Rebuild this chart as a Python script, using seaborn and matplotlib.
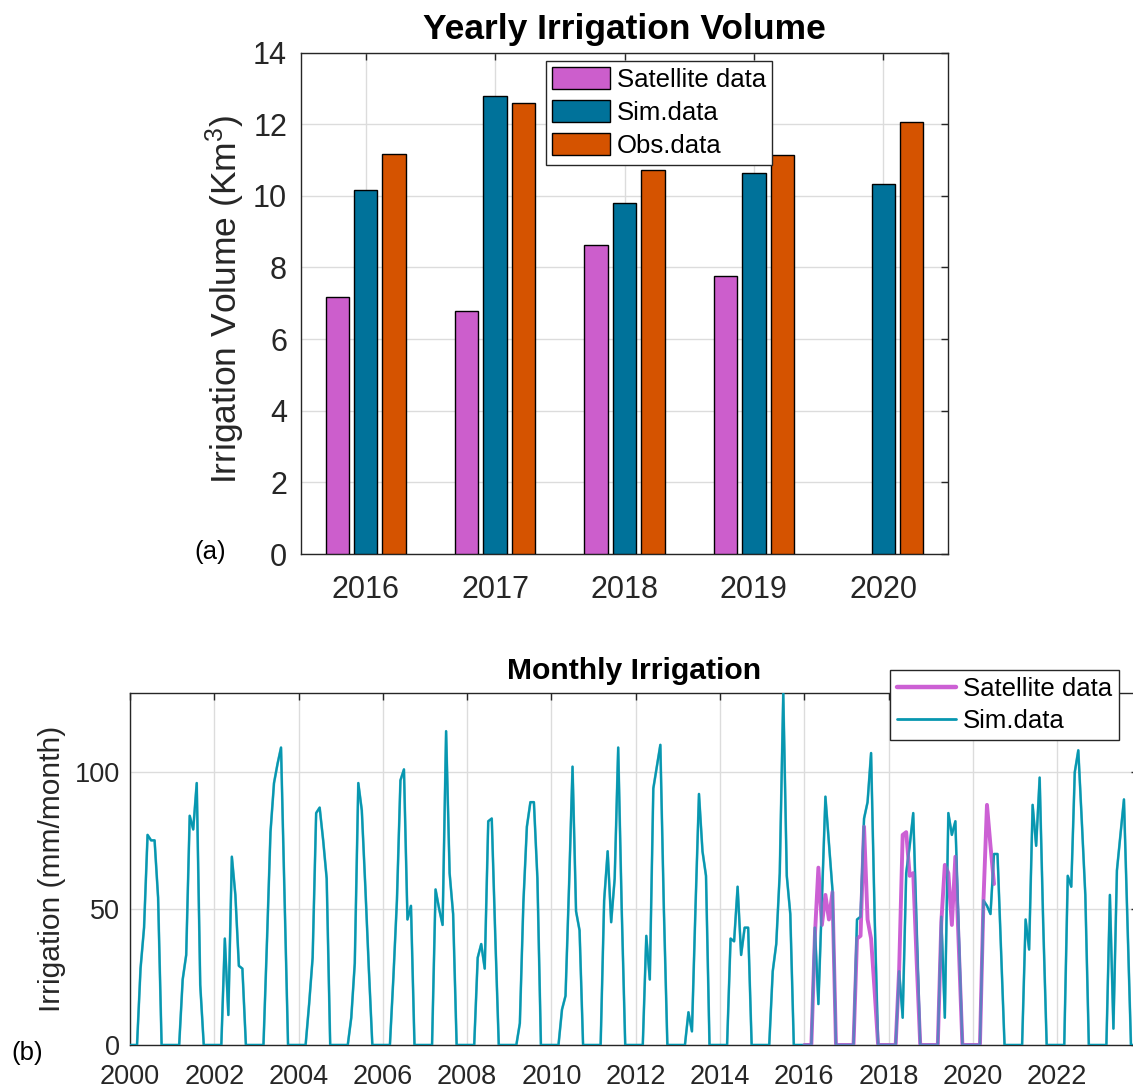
import numpy as np
import pandas as pd
import matplotlib
matplotlib.use("Agg")
import matplotlib.pyplot as plt
from matplotlib.patches import Patch
from matplotlib.lines import Line2D
import seaborn as sns

# ---------------- data: yearly volumes (Km^3) ----------------
years = ["2016", "2017", "2018", "2019", "2020"]
sources = ["Satellite data", "Sim.data", "Obs.data"]
satellite_km3 = [7.17, 6.77, 8.64, 7.75, np.nan]
sim_km3 = [10.17, 12.78, 9.81, 10.64, 10.34]
obs_km3 = [11.17, 12.60, 10.71, 11.14, 12.06]

# ---------------- data: monthly irrigation (mm/month) ----------------
sim_years = list(range(2000, 2024))
sim_monthly = [
    0, 0, 0, 28, 43, 77, 75, 75, 54, 0, 0, 0,      # 2000
    0, 0, 0, 24, 33, 84, 79, 96, 22, 0, 0, 0,      # 2001
    0, 0, 0, 39, 11, 69, 55, 29, 28, 0, 0, 0,      # 2002
    0, 0, 0, 38, 78, 96, 103, 109, 55, 0, 0, 0,    # 2003
    0, 0, 0, 15, 32, 85, 87, 75, 61, 0, 0, 0,      # 2004
    0, 0, 0, 10, 30, 96, 86, 58, 28, 0, 0, 0,      # 2005
    0, 0, 0, 25, 53, 97, 101, 46, 51, 0, 0, 0,     # 2006
    0, 0, 0, 57, 50, 44, 115, 63, 48, 0, 0, 0,     # 2007
    0, 0, 0, 32, 37, 28, 82, 83, 40, 0, 0, 0,      # 2008
    0, 0, 0, 8, 52, 80, 89, 89, 61, 0, 0, 0,       # 2009
    0, 0, 0, 13, 18, 58, 102, 49, 42, 0, 0, 0,     # 2010
    0, 0, 0, 53, 71, 45, 61, 109, 50, 0, 0, 0,     # 2011
    0, 0, 0, 40, 24, 94, 102, 110, 50, 0, 0, 0,    # 2012
    0, 0, 0, 12, 5, 50, 92, 71, 62, 0, 0, 0,       # 2013
    0, 0, 0, 39, 38, 58, 33, 43, 43, 0, 0, 0,      # 2014
    0, 0, 0, 27, 37, 63, 129, 62, 48, 0, 0, 0,     # 2015
    0, 0, 0, 43, 15, 53, 91, 74, 57, 0, 0, 0,      # 2016
    0, 0, 0, 46, 47, 83, 89, 107, 48, 0, 0, 0,     # 2017
    0, 0, 0, 27, 10, 63, 73, 85, 42, 0, 0, 0,      # 2018
    0, 0, 0, 47, 10, 85, 77, 82, 40, 0, 0, 0,      # 2019
    0, 0, 0, 53, 51, 48, 70, 70, 35, 0, 0, 0,      # 2020
    0, 0, 0, 46, 35, 88, 73, 98, 45, 0, 0, 0,      # 2021
    0, 0, 0, 62, 58, 100, 108, 82, 55, 0, 0, 0,    # 2022
    0, 0, 0, 55, 6, 64, 77, 90, 45, 0, 0, 0,       # 2023
]
sat_start_year = 2016
sat_monthly = [
    0, 0, 0, 40, 65, 44, 55, 46, 56, 0, 0, 0,      # 2016
    0, 0, 0, 39, 40, 80, 46, 39, 20, 0, 0, 0,      # 2017
    0, 0, 0, 28, 77, 78, 62, 63, 30, 0, 0, 0,      # 2018
    0, 0, 0, 45, 66, 63, 44, 69, 35, 0, 0, 0,      # 2019
    0, 0, 0, 53, 88, 73, 59,                       # 2020 (Jan-Jul)
]
month_ticks = list(range(2000, 2024, 2))

# ---------------- styling ----------------
bar_colors = ["#cc5ecc", "#00729a", "#d55300"]
sim_color = "#0797b0"
sat_color = "#cc60d4"
axis_color = "#262626"
grid_color = "#dcdcdc"

sns.set_style("white")
plt.rcParams["font.family"] = ["Liberation Sans", "DejaVu Sans"]
plt.rcParams["axes.edgecolor"] = axis_color
plt.rcParams["xtick.color"] = axis_color
plt.rcParams["ytick.color"] = axis_color
plt.rcParams["text.color"] = "black"
plt.rcParams["mathtext.fontset"] = "custom"
plt.rcParams["mathtext.rm"] = "Liberation Sans"
plt.rcParams["mathtext.it"] = "Liberation Sans:italic"

W, H = 1133, 1089
fig = plt.figure(figsize=(W / 100, H / 100), dpi=100)

def fx(px):
    return px / W

def fy(py):
    return 1 - py / H

# ================= top: yearly bars =================
ax1 = fig.add_axes([fx(301), fy(554), fx(948) - fx(301), fy(52.5) - fy(554)])
df_bar = pd.DataFrame({
    "Year": years * 3,
    "Source": [sources[0]] * 5 + [sources[1]] * 5 + [sources[2]] * 5,
    "Volume": satellite_km3 + sim_km3 + obs_km3,
})
sns.barplot(data=df_bar, x="Year", y="Volume", hue="Source", hue_order=sources,
            palette=bar_colors, width=0.66, gap=0.18, edgecolor="black",
            linewidth=1.0, saturation=1, legend=False, ax=ax1, zorder=3)
ax1.set_ylim(0, 14)
ax1.set_xlim(-0.5, 4.5)
ax1.set_yticks(range(0, 15, 2))
ax1.grid(True, color=grid_color, linewidth=1.0, zorder=0)
ax1.set_axisbelow(True)
ax1.tick_params(axis="both", direction="in", top=True, right=True, length=5, width=1,
                labelsize=22)
ax1.tick_params(axis="x", pad=15)
ax1.tick_params(axis="y", pad=10)
ax1.set_xlabel("")
ax1.set_ylabel("Irrigation Volume (Km$^3$)", fontsize=25.5)
ax1.yaxis.set_label_coords(-0.083, 0.507)
ax1.set_title("Yearly Irrigation Volume", fontsize=25.5, fontweight="bold", pad=10)
for s in ax1.spines.values():
    s.set_linewidth(1.0)
    s.set_color(axis_color)
bar_handles = [Patch(facecolor=c, edgecolor="black", linewidth=1.0) for c in bar_colors]
leg1 = ax1.legend(bar_handles, sources, loc="upper left",
                  bbox_to_anchor=(fx(546), fy(60.5)), bbox_transform=fig.transFigure,
                  fontsize=18.5, frameon=True, fancybox=False, framealpha=1,
                  edgecolor=axis_color, borderpad=0.25, labelspacing=0.32,
                  handlelength=2.25, handleheight=0.95, handletextpad=0.25,
                  borderaxespad=0)
leg1.get_frame().set_linewidth(1.0)

# ================= bottom: monthly lines =================
ax2 = fig.add_axes([fx(130), fy(1045), fx(1138) - fx(130), fy(693) - fy(1045)])
t_sim = [y + m / 12 for y in sim_years for m in range(12)]
sat_offset = (sat_start_year - sim_years[0]) * 12
t_sat = t_sim[sat_offset:sat_offset + len(sat_monthly)]
df_sim = pd.DataFrame({"t": t_sim, "v": sim_monthly})
df_sat = pd.DataFrame({"t": t_sat, "v": sat_monthly})
sns.lineplot(data=df_sim, x="t", y="v", color=sim_color, linewidth=1.6, ax=ax2, zorder=3)
sns.lineplot(data=df_sat, x="t", y="v", color=sat_color, linewidth=2.8, ax=ax2, zorder=4)
# translucent sim overlay so overlapping stretches blend like the original
sns.lineplot(data=df_sim, x="t", y="v", color=sim_color, alpha=0.55, linewidth=1.9,
             ax=ax2, zorder=5)
ax2.set_xlim(2000, 2023 + 11 / 12)
ax2.set_ylim(0, 129)
ax2.set_xticks(month_ticks)
ax2.set_xticklabels([str(v) for v in month_ticks])
ax2.set_yticks([0, 50, 100])
ax2.grid(True, color=grid_color, linewidth=1.0, zorder=0)
ax2.set_axisbelow(True)
ax2.tick_params(axis="both", direction="in", top=True, right=True, length=5, width=1,
                labelsize=19.5)
ax2.tick_params(axis="x", pad=14)
ax2.tick_params(axis="y", pad=7)
ax2.set_xlabel("")
ax2.set_ylabel("Irrigation (mm/month)", fontsize=21.5)
ax2.yaxis.set_label_coords(-0.063, 0.5)
ax2.set_title("Monthly Irrigation", fontsize=21.7, fontweight="bold", pad=10)
for s in ax2.spines.values():
    s.set_linewidth(1.0)
    s.set_color(axis_color)
line_handles = [Line2D([0], [0], color=sat_color, linewidth=3.2),
                Line2D([0], [0], color=sim_color, linewidth=2.0)]
leg2 = ax2.legend(line_handles, ["Satellite data", "Sim.data"], loc="upper right",
                  bbox_to_anchor=(fx(1119), fy(670)), bbox_transform=fig.transFigure,
                  fontsize=18.5, frameon=True, fancybox=False, framealpha=1,
                  edgecolor=axis_color, borderpad=0.28, labelspacing=0.3,
                  handlelength=2.3, handletextpad=0.25, borderaxespad=0)
leg2.get_frame().set_linewidth(1.0)
leg2.set_zorder(10)

fig.text(fx(210), fy(552), "(a)", fontsize=18.5, ha="center", va="center")
fig.text(fx(27), fy(1053), "(b)", fontsize=18.5, ha="center", va="center")

fig.savefig("out.png", dpi=100)
